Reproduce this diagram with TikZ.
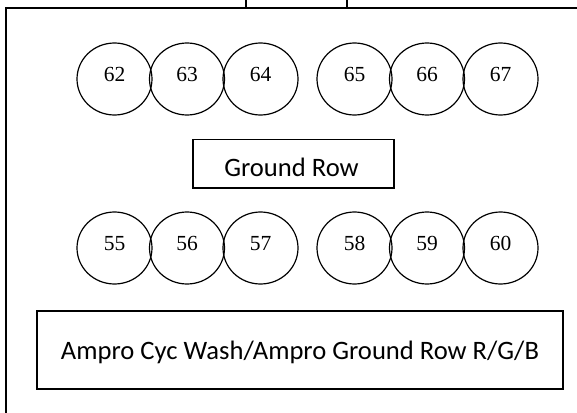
\documentclass[tikz,border=0pt]{standalone}
\usepackage{fontspec}
\newfontfamily\carlito{Carlito}
\newfontfamily\libser{Liberation Serif}
\usetikzlibrary{shapes.geometric}
\begin{document}
\begin{tikzpicture}[x=1pt,y=-1pt,
  lamp/.style={ellipse,draw,line width=1.2pt,minimum width=75pt,minimum height=72pt,inner sep=0pt},
  num/.style={anchor=base,inner sep=0pt,font=\libser\fontsize{21.5}{21.5}\selectfont},
  boxlabel/.style={anchor=base,inner sep=0pt,font=\carlito\fontsize{26.6}{26.6}\selectfont},
  frame/.style={draw,line width=1.2pt}]
\useasboundingbox (0,0) rectangle (577,412);
\clip (0,0) rectangle (577,412);
\fill[white] (0,0) rectangle (577,412);
% outer frame and top tab
\draw[frame] (6,8) rectangle (600,440);
\draw[frame] (246,-20) rectangle (347,8);
% top row lamps
\foreach \n/\x in {62/114.5,63/187,64/260.5,65/354.5,66/427,67/500.5}{
  \node[lamp] (c\n) at (\x,79) {};
  \node[num] (t\n) at (\x,81.5) {\n};
}
% bottom row lamps
\foreach \n/\x in {55/114.5,56/187,57/260.5,58/354.5,59/427,60/500.5}{
  \node[lamp] (c\n) at (\x,248) {};
  \node[num] (t\n) at (\x,250.5) {\n};
}
% Ground Row box
\draw[frame] (193,139.5) rectangle (394,188);
\node[boxlabel] (gr) at (291.5,176) {Ground Row};
% Ampro box
\draw[frame] (37,311) rectangle (563,389);
\node[boxlabel] (ampro) at (300,359) {Ampro Cyc Wash/Ampro Ground Row R/G/B};
\end{tikzpicture}
\end{document}
